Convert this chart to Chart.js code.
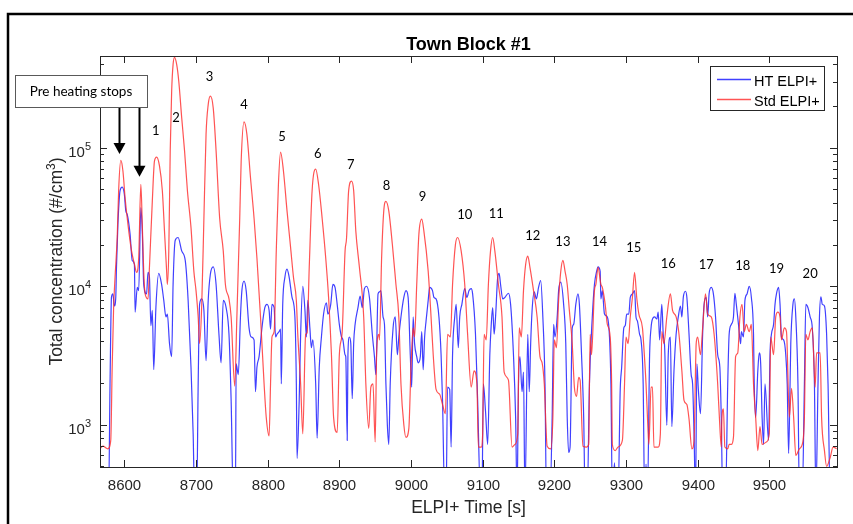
<!DOCTYPE html>
<html>
<head>
<meta charset="utf-8">
<script src="https://cdn.jsdelivr.net/npm/chart.js@4.4.1/dist/chart.umd.min.js"></script>
<style>
  html, body { margin: 0; padding: 0; background: #fff; }
  canvas { display: block; }
</style>
</head>
<body>
<canvas id="myChart" width="853" height="524"></canvas>
<script>
// axis ticks
var xTicks = [8600, 8700, 8800, 8900, 9000, 9100, 9200, 9300, 9400, 9500];
var yDecades = [1e3, 1e4, 1e5];
var yExponents = ['3', '4', '5'];

// HT ELPI+ (blue), time [s] and concentration [#/cm3]
var htTime = [
  8566,8578,8580,8582,8584,8586,8588,8589,8591,8594,
  8597,8600,8602,8604,8608,8611,8614,8615,8618,8620,
  8623,8625,8627,8631,8633,8635,8637,8639,8641,8644,
  8648,8652,8655,8658,8660,8663,8666,8668,8671,8675,
  8680,8685,8689,8693,8696,8698,8701,8703,8705,8708,
  8711,8714,8717,8720,8724,8728,8732,8735,8738,8742,
  8746,8749,8752,8755,8756,8759,8762,8764,8767,8770,
  8774,8777,8781,8783,8785,8788,8792,8796,8799,8802,
  8804,8806,8809,8811,8813,8816,8818,8819,8821,8824,
  8827,8830,8834,8838,8840,8841,8844,8846,8849,8852,
  8854,8856,8859,8861,8863,8867,8869,8872,8875,8878,
  8882,8884,8888,8891,8894,8897,8900,8903,8905,8908,
  8909,8911,8912,8914,8916,8918,8920,8922,8926,8929,
  8932,8935,8938,8942,8946,8949,8951,8954,8956,8958,
  8961,8963,8965,8967,8969,8971,8975,8978,8981,8983,
  8986,8990,8993,8996,8999,9001,9003,9005,9008,9010,
  9013,9015,9017,9019,9021,9024,9026,9030,9032,9035,
  9039,9042,9044,9047,9049,9051,9054,9056,9058,9061,
  9063,9066,9068,9071,9075,9078,9081,9084,9086,9090,
  9093,9097,9099,9101,9104,9107,9110,9112,9114,9116,
  9118,9121,9123,9125,9128,9131,9136,9139,9143,9146,
  9148,9150,9152,9155,9157,9159,9163,9165,9167,9169,
  9172,9175,9178,9181,9184,9187,9189,9194,9197,9199,
  9201,9204,9206,9209,9213,9216,9218,9220,9222,9225,
  9227,9230,9233,9235,9238,9241,9243,9246,9249,9253,
  9256,9259,9261,9264,9265,9267,9270,9274,9277,9279,
  9281,9284,9286,9289,9292,9294,9297,9299,9301,9304,
  9306,9309,9312,9314,9316,9319,9321,9324,9326,9328,
  9330,9333,9335,9337,9340,9343,9345,9347,9350,9352,
  9354,9357,9359,9362,9364,9367,9370,9373,9376,9378,
  9380,9383,9385,9388,9391,9393,9395,9397,9399,9401,
  9404,9407,9409,9412,9414,9416,9419,9422,9425,9428,
  9431,9433,9435,9439,9442,9444,9447,9450,9452,9454,
  9457,9460,9461,9464,9466,9469,9472,9475,9478,9479,
  9481,9484,9486,9488,9490,9492,9494,9499,9501,9503,
  9506,9508,9510,9513,9515,9517,9520,9523,9525,9527,
  9529,9530,9533,9535,9537,9540,9542,9546,9549,9551,
  9554,9557,9560,9563,9565,9568,9570,9572,9574,9577,
  9580,9582,9585,9594
];
var htConc = [
  300,300,1970,8300,8800,7200,8300,13700,28000,49000,
  52000,46000,35000,33000,23700,15300,14400,6500,9800,9300,
  37000,25000,10300,8800,12600,11600,5200,6700,2500,7000,
  12400,10300,7900,6000,6300,3850,3100,10300,21500,22500,
  18000,15300,7900,2600,860,300,300,1970,7400,8100,
  6700,2900,7900,12200,13800,10300,4500,2800,7900,7000,
  4500,1500,300,300,2750,2300,6000,9300,10900,9300,
  5000,4300,4100,1730,2600,3100,5000,7000,7400,6700,
  4900,7400,7000,4300,4500,4700,4900,1970,7400,11600,
  13300,11600,8300,6000,1970,570,1500,4500,10000,6700,
  4300,7900,4900,3600,4100,1970,800,2600,4300,6300,
  7600,6300,7400,10300,9800,7400,5300,4300,4100,3200,
  3100,770,3200,4300,3850,1540,3850,5300,7000,8500,
  7000,9600,10000,8300,4500,3100,2300,8800,9100,9300,
  6000,5300,1970,1000,720,1970,5000,6000,3200,4300,
  6000,8300,9300,8300,3200,1870,6000,3850,3100,2800,
  3100,4700,2500,4300,5600,7900,9800,9300,8300,8100,
  6000,3200,1500,300,300,1870,1800,690,3200,6000,
  7400,3600,6000,7400,9600,8300,9300,9600,8800,4500,
  1500,300,300,1970,1250,720,3200,5300,7000,4500,
  6000,11600,12400,10300,8100,8300,8900,7400,3200,1130,
  300,1970,3100,1730,2400,300,4500,1730,3850,6700,
  9100,8100,9800,11000,6000,1970,300,300,1130,5300,
  4300,6000,9300,10700,7400,3850,1130,630,690,5000,
  5300,7400,8800,7400,3200,1130,300,300,1970,6000,
  10300,12800,13800,12800,8100,9300,6300,6000,4300,1970,
  300,530,300,300,1800,2600,5000,5200,6300,6300,
  8300,8800,9300,6000,5600,4500,4100,1970,300,520,
  300,3200,5000,5800,6000,5800,6500,4100,7400,4500,
  3600,990,3200,4300,970,2450,4500,6000,7200,6000,
  8300,9200,8300,4500,2300,1970,860,300,2750,1800,
  1200,4500,7400,8300,6000,8800,9800,8800,6000,3200,
  2600,1130,300,300,1970,4500,5300,6000,8900,7400,
  5300,3850,4700,4300,7900,8800,10000,8300,4500,1970,
  1130,2450,3300,2750,1130,720,1970,770,3200,4500,
  5300,7400,8800,9800,7400,4300,4100,3200,1970,620,
  1970,3850,7400,8100,6000,1970,300,300,1970,7400,
  7000,6000,5000,1970,300,1970,6000,8400,7400,7200,
  4500,1970,300,300
];

// Std ELPI+ (red)
var stdTime = [
  8566,8570,8577,8581,8583,8585,8587,8590,8592,8595,
  8598,8601,8605,8610,8614,8617,8620,8623,8625,8627,
  8629,8633,8635,8639,8642,8645,8649,8653,8656,8659,
  8660,8662,8664,8666,8668,8670,8673,8676,8680,8684,
  8688,8693,8697,8700,8703,8705,8708,8711,8714,8717,
  8720,8724,8728,8733,8738,8741,8746,8749,8754,8757,
  8761,8763,8767,8771,8776,8781,8785,8790,8795,8798,
  8802,8804,8806,8809,8812,8815,8818,8822,8827,8832,
  8836,8840,8842,8846,8849,8853,8855,8858,8862,8867,
  8871,8876,8881,8885,8889,8892,8897,8900,8904,8908,
  8910,8913,8917,8920,8923,8928,8934,8937,8941,8944,
  8947,8950,8952,8955,8956,8959,8962,8965,8969,8974,
  8979,8983,8986,8990,8993,8997,9000,9003,9005,9008,
  9011,9015,9018,9024,9028,9031,9035,9040,9044,9048,
  9051,9055,9058,9062,9065,9070,9075,9079,9084,9088,
  9092,9094,9098,9100,9102,9105,9108,9111,9114,9117,
  9122,9127,9130,9136,9141,9145,9149,9151,9154,9157,
  9160,9163,9166,9171,9176,9180,9183,9186,9190,9195,
  9198,9200,9203,9206,9209,9212,9215,9218,9221,9225,
  9228,9231,9234,9236,9240,9245,9248,9250,9252,9256,
  9258,9261,9265,9267,9271,9274,9278,9280,9281,9285,
  9289,9295,9298,9300,9303,9306,9309,9312,9315,9318,
  9323,9325,9328,9330,9332,9335,9337,9339,9345,9348,
  9350,9353,9357,9362,9365,9370,9374,9378,9381,9385,
  9388,9392,9395,9398,9400,9404,9407,9411,9414,9419,
  9423,9428,9431,9433,9434,9436,9438,9442,9444,9447,
  9450,9453,9456,9459,9462,9465,9468,9472,9475,9478,
  9481,9484,9487,9490,9496,9500,9502,9506,9509,9512,
  9515,9517,9521,9524,9528,9531,9534,9537,9542,9546,
  9549,9551,9554,9557,9560,9564,9566,9571,9573,9577,
  9580,9585,9589,9594
];
var stdConc = [
  670,700,670,770,2600,7000,11600,22400,49000,81000,
  68000,43600,28000,18000,14500,12600,16000,54500,28000,12800,
  8800,8100,13700,41000,80000,85700,74000,49000,25000,12800,
  10300,18000,95000,256000,400000,450000,400000,300000,165000,95000,
  49000,26500,12800,9300,6000,3850,7400,31000,125000,205000,
  236000,194000,95000,31000,18000,10300,8100,6000,1900,6000,
  31000,80000,154000,125000,61000,31000,16000,6000,1970,1130,
  830,1970,4300,4700,18000,54500,93000,68000,35000,19000,
  11600,7900,4500,1970,860,4500,4600,13700,49000,70000,
  54500,31000,16000,8300,3200,1130,880,3200,4700,18000,
  22000,49000,57500,49000,25000,13700,6000,1970,940,1870,
  1970,750,3200,4500,4100,16000,35000,41000,35000,20000,
  10300,6000,1970,1000,810,940,2600,5000,4300,10300,
  23700,30500,25000,12800,6000,3200,1800,1660,1400,1200,
  4500,4300,10300,20000,22500,18000,10300,4500,1870,2450,
  1970,690,690,860,4500,4100,10300,18000,22500,18000,
  10300,6000,2400,2100,690,720,860,5000,4300,9300,
  14400,16500,13700,9300,6000,3100,2800,1970,700,670,
  1130,4100,3600,7900,12800,15400,12800,10300,6700,3850,
  1870,1600,2200,2100,700,690,720,4500,3200,9300,
  10300,13700,10300,9800,7400,5300,4300,1970,720,650,
  690,770,1970,4300,3850,6000,8300,12600,8300,6300,
  5000,3600,1970,1130,720,1870,1870,690,690,860,
  4700,3850,6000,8800,6700,6000,4500,2450,1500,1400,
  1100,670,770,3850,4300,3200,5000,8800,6300,6000,
  4500,1970,970,690,1130,1300,690,670,720,720,
  810,3100,3300,6000,7400,4700,5300,4700,5300,1970,
  1130,650,970,720,750,860,4300,3200,6000,6500,
  6000,4100,5000,4700,1130,1830,1130,600,670,720,
  1130,4500,4100,4700,5000,1870,3300,3300,1130,650,
  500,580,690,670
];

// numbered cycle labels (anchor in data units)
var peakLabels = ['1','2','3','4','5','6','7','8','9','10','11','12','13','14','15','16','17','18','19','20'];
var peakLabelTime = [8644,8672,8719,8767,8820,8870,8916,8966,9016,9075,9119,9170,9212,9263,9311,9359,9412,9463,9510,9557];
var peakLabelConc = [132000,164000,324000,203000,119000,90600,75000,53000,44200,32600,33100,23200,20800,20800,19000,14600,14400,14100,13300,12200];

// "Pre heating stops" arrow tips
var arrowTime = [8593, 8621];
var arrowConc = [90000, 61700];

function toPoints(t, v) {
  return t.map(function (tt, i) { return { x: tt, y: v[i] }; });
}

var AX = '#262626';
var SANS = '"Liberation Sans", Arial, sans-serif';
var NOTE = 'Lato, "Open Sans", sans-serif';

var overlay = {
  id: 'overlay',
  afterDraw: function (chart) {
    var ctx = chart.ctx, a = chart.chartArea;
    var xs = chart.scales.x, ys = chart.scales.y;
    var cx = (a.left + a.right) / 2;
    ctx.save();

    // outer frame
    ctx.strokeStyle = '#000';
    ctx.lineWidth = 2.5;
    ctx.beginPath();
    ctx.moveTo(8, 524); ctx.lineTo(8, 14); ctx.lineTo(853, 14);
    ctx.stroke();

    // axes box
    ctx.strokeStyle = AX;
    ctx.lineWidth = 1;
    ctx.strokeRect(Math.round(a.left) + 0.5, Math.round(a.top) + 0.5,
      Math.round(a.right - a.left), Math.round(a.bottom - a.top));

    // x ticks + labels
    ctx.fillStyle = AX;
    ctx.font = '15px ' + SANS;
    ctx.textAlign = 'center';
    ctx.textBaseline = 'alphabetic';
    ctx.beginPath();
    xTicks.forEach(function (t) {
      var px = Math.round(xs.getPixelForValue(t)) + 0.5;
      ctx.moveTo(px, a.bottom); ctx.lineTo(px, a.bottom - 7);
      ctx.moveTo(px, a.top); ctx.lineTo(px, a.top + 7);
      ctx.fillText(String(t), px, a.bottom + 23);
    });
    ctx.stroke();

    // y ticks (major + minor)
    ctx.beginPath();
    for (var k = 2; k <= 5; k++) {
      for (var m = 1; m <= 9; m++) {
        var v = m * Math.pow(10, k);
        if (v < ys.min || v > ys.max) continue;
        var py = Math.round(ys.getPixelForValue(v)) + 0.5;
        var len = m === 1 ? 7 : 4;
        ctx.moveTo(a.left, py); ctx.lineTo(a.left + len, py);
        ctx.moveTo(a.right, py); ctx.lineTo(a.right - len, py);
      }
    }
    ctx.stroke();

    yDecades.forEach(function (d, i) {
      var py = ys.getPixelForValue(d);
      ctx.textAlign = 'right';
      ctx.font = '11px ' + SANS;
      var we = ctx.measureText(yExponents[i]).width;
      ctx.fillText(yExponents[i], 91, py + 2);
      ctx.font = '15px ' + SANS;
      ctx.fillText('10', 91 - we, py + 9);
    });

    // title and axis labels
    ctx.textAlign = 'center';
    ctx.font = 'bold 18px ' + SANS;
    ctx.fillStyle = '#000';
    ctx.fillText('Town Block #1', cx, 50);
    ctx.fillStyle = AX;
    ctx.font = '17.5px ' + SANS;
    ctx.fillText('ELPI+ Time [s]', cx, 513);

    ctx.save();
    ctx.translate(62, (a.top + a.bottom) / 2);
    ctx.rotate(-Math.PI / 2);
    var p1 = 'Total concentration (#/cm', p2 = '3', p3 = ')';
    ctx.font = '17.5px ' + SANS;
    var w1 = ctx.measureText(p1).width, w3 = ctx.measureText(p3).width;
    ctx.font = '12px ' + SANS;
    var w2 = ctx.measureText(p2).width;
    var sx = -(w1 + w2 + w3) / 2;
    ctx.textAlign = 'left';
    ctx.font = '17.5px ' + SANS;
    ctx.fillText(p1, sx, 0);
    ctx.fillText(p3, sx + w1 + w2, 0);
    ctx.font = '12px ' + SANS;
    ctx.fillText(p2, sx + w1, -7);
    ctx.restore();

    // legend
    ctx.fillStyle = '#fff';
    ctx.fillRect(710, 66, 114, 44);
    ctx.strokeStyle = AX;
    ctx.lineWidth = 1;
    ctx.strokeRect(710.5, 66.5, 114, 44);
    chart.data.datasets.forEach(function (ds, i) {
      var ly = 79.5 + i * 20;
      ctx.strokeStyle = ds.borderColor;
      ctx.lineWidth = 1.3;
      ctx.beginPath(); ctx.moveTo(717, ly); ctx.lineTo(751, ly); ctx.stroke();
      ctx.fillStyle = '#000';
      ctx.font = '14.5px ' + SANS;
      ctx.textAlign = 'left';
      ctx.fillText(ds.label, 754, ly + 6.5);
    });

    // cycle numbers
    ctx.fillStyle = '#000';
    ctx.font = '13px ' + NOTE;
    ctx.textAlign = 'center';
    ctx.textBaseline = 'middle';
    peakLabels.forEach(function (s, i) {
      ctx.fillText(s, xs.getPixelForValue(peakLabelTime[i]), ys.getPixelForValue(peakLabelConc[i]));
    });

    // "Pre heating stops" callout
    ctx.fillStyle = '#fff';
    ctx.fillRect(15, 75, 132, 32);
    ctx.strokeStyle = '#595959';
    ctx.lineWidth = 1;
    ctx.strokeRect(15.5, 75.5, 132, 32);
    ctx.fillStyle = '#000';
    ctx.font = '13.5px ' + NOTE;
    ctx.fillText('Pre heating stops', 81, 92);

    ctx.strokeStyle = '#000';
    ctx.fillStyle = '#000';
    ctx.lineWidth = 2;
    arrowTime.forEach(function (t, i) {
      var ax = Math.round(xs.getPixelForValue(t)) + 0.5;
      var tip = ys.getPixelForValue(arrowConc[i]);
      ctx.beginPath(); ctx.moveTo(ax, 108); ctx.lineTo(ax, tip - 10); ctx.stroke();
      ctx.beginPath();
      ctx.moveTo(ax - 6, tip - 11); ctx.lineTo(ax + 6, tip - 11); ctx.lineTo(ax, tip);
      ctx.closePath(); ctx.fill();
    });

    ctx.restore();
  }
};

var ctx = document.getElementById('myChart').getContext('2d');
var chart = new Chart(ctx, {
  type: 'line',
  data: {
    datasets: [{
      label: 'HT ELPI+',
      data: toPoints(htTime, htConc),
      borderColor: 'rgba(30,30,255,0.85)',
      borderWidth: 1.2,
      pointRadius: 0,
      cubicInterpolationMode: 'monotone',
      order: 1
    }, {
      label: 'Std ELPI+',
      data: toPoints(stdTime, stdConc),
      borderColor: 'rgba(255,40,40,0.8)',
      borderWidth: 1.2,
      pointRadius: 0,
      cubicInterpolationMode: 'monotone',
      order: 0
    }]
  },
  options: {
    responsive: false,
    animation: false,
    devicePixelRatio: 1,
    layout: { padding: { left: 100, right: 16, top: 56, bottom: 57 } },
    plugins: { legend: { display: false }, title: { display: false }, tooltip: { enabled: false } },
    scales: {
      x: { type: 'linear', min: 8566, max: 9594.5, display: false },
      y: { type: 'logarithmic', min: 495, max: 460000, display: false }
    }
  },
  plugins: [overlay]
});
</script>
</body>
</html>
